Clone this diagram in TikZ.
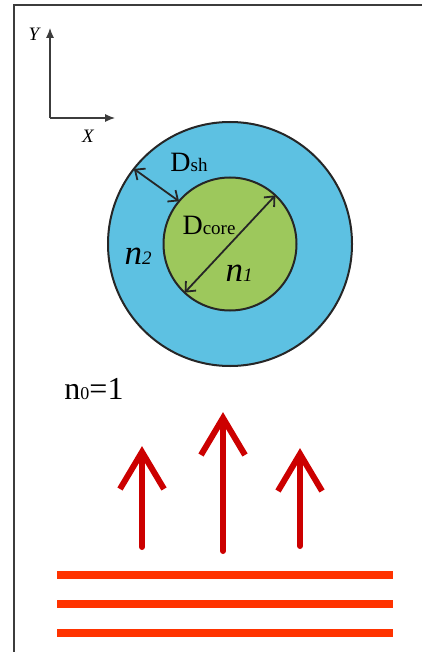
\documentclass[tikz,border=0pt]{standalone}
\usepackage{fontspec}
\setmainfont{Liberation Serif}
\usetikzlibrary{arrows.meta}
\definecolor{shellblue}{RGB}{93,193,226}
\definecolor{coregreen}{RGB}{157,200,92}
\definecolor{arrowred}{RGB}{204,0,0}
\definecolor{lineorange}{RGB}{255,51,0}
\definecolor{framegray}{RGB}{60,60,60}
\tikzset{
  ring/.style={circle, draw=black!85, line width=2pt, inner sep=0pt, outer sep=0pt},
  dimarrow/.style={black!85, line width=1.8pt, {Straight Barb[length=8pt,width=14pt]}-{Straight Barb[length=8pt,width=14pt]}},
  axis/.style={framegray, line width=1.1pt, -{Latex[length=10pt,width=8pt]}},
  bigtxt/.style={inner sep=0pt, font=\fontsize{28}{28}\selectfont},
  nlabel/.style={inner sep=0pt, font=\fontsize{35}{35}\selectfont\itshape},
  axlabel/.style={inner sep=0pt, font=\fontsize{19}{19}\selectfont\itshape},
  shaft/.style={arrowred, line width=6pt, line cap=round},
  barb/.style={arrowred, line width=6pt, line cap=butt, line join=miter},
  wave/.style={lineorange, line width=8pt, line cap=butt}
}
\begin{document}
\begin{tikzpicture}[x=1pt,y=-1pt]
\useasboundingbox (0,0) rectangle (422,652);
% frame
\coordinate (fbl) at (14,652);
\coordinate (ftl) at (14,5);
\coordinate (ftr) at (422,5);
\draw[framegray, line width=1.6pt] (fbl) -- (ftl) -- (ftr);
% axes
\coordinate (o) at (50,118);
\coordinate (ytip) at (50,28);
\coordinate (xtip) at (115,118);
\draw[axis] (o) -- (ytip);
\draw[axis] (o) -- (xtip);
\node[axlabel] (ylab) at (34,34) {Y};
\node[axlabel] (xlab) at (88,136) {X};
% fibre
\node[ring, fill=shellblue, minimum size=244pt] (outer) at (230,244) {};
\node[ring, fill=coregreen, minimum size=133pt] (inner) at (230,244) {};
\draw[dimarrow] (inner.227) -- (inner.47);
\draw[dimarrow] (outer.142) -- (inner.140);
\node[bigtxt, anchor=base] (dsh) at (189,172) {D{\fontsize{19}{19}\selectfont sh}};
\node[bigtxt, anchor=base] (dcore) at (209,234) {D{\fontsize{19}{19}\selectfont core}};
\node[nlabel, anchor=base] (n2) at (138,264) {n{\fontsize{19}{19}\selectfont 2}};
\node[nlabel, anchor=base] (n1) at (239,281) {n{\fontsize{19}{19}\selectfont 1}};
% n0 = 1
\node[inner sep=0pt, anchor=base, font=\fontsize{32}{32}\selectfont] (n0) at (94,399) {n{\fontsize{18}{18}\selectfont 0}=1};
% red arrows
\coordinate (a1b) at (142,547); \coordinate (a1t) at (142,452);
\coordinate (a2b) at (223,551); \coordinate (a2t) at (223,418);
\coordinate (a3b) at (300,546); \coordinate (a3t) at (300,454);
\foreach \b/\t in {a1b/a1t, a2b/a2t, a3b/a3t}{
  \draw[shaft] (\b) -- ([yshift=-4pt]\t);
  \draw[barb] ([xshift=-22pt,yshift=-37pt]\t) -- (\t) -- ([xshift=22pt,yshift=-37pt]\t);
}
% incident wave lines
\foreach \y/\n in {575/w1, 604/w2, 633/w3}{
  \coordinate (\n l) at (57,\y);
  \coordinate (\n r) at (393,\y);
  \draw[wave] (\n l) -- (\n r);
}
\end{tikzpicture}
\end{document}
